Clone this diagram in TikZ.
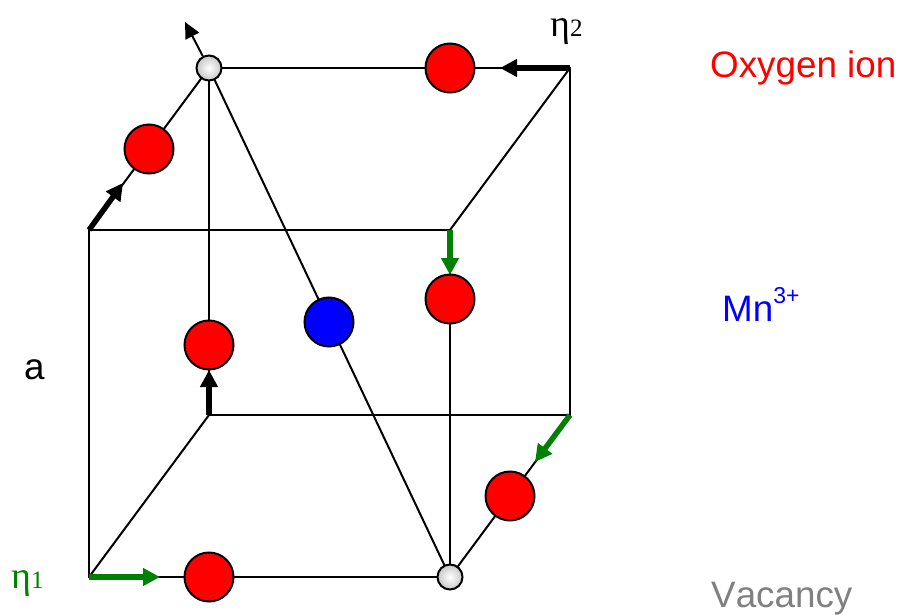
\documentclass[tikz,border=0pt]{standalone}
\usepackage{fontspec}
\setmainfont[Kerning=Off]{Liberation Sans}
\newfontfamily\timesf{Liberation Serif}
\usetikzlibrary{arrows.meta}
\definecolor{arrowgreen}{RGB}{0,128,0}
\definecolor{vacgray}{RGB}{128,128,128}
\tikzset{
  edge/.style={draw=black,line width=2pt},
  oxy/.style={circle,draw=black,line width=2pt,fill=red,minimum size=49pt,inner sep=0pt},
  mn/.style={circle,draw=black,line width=2pt,fill=blue,minimum size=49pt,inner sep=0pt},
  vac/.style={circle,draw=black,line width=2pt,inner color=white,outer color=black!22,minimum size=25pt,inner sep=0pt},
  thickarrow/.style={line width=5.5pt,-{Triangle[length=17pt,width=17pt]}},
  thinarrow/.style={line width=2pt,-{Triangle[length=16pt,width=15pt]}},
  lab/.style={font=\fontsize{36.8}{40}\selectfont,anchor=base west,inner sep=0pt},
  eta/.style={font=\fontsize{38}{40}\timesf\selectfont,anchor=base west,inner sep=0pt}
}
\begin{document}
\begin{tikzpicture}[x=1pt,y=-1pt]
\useasboundingbox (0,0) rectangle (899,615);
% cube corners
\coordinate (ftl) at (89,230);
\coordinate (ftr) at (450,230);
\coordinate (fbl) at (89,577);
\coordinate (fbr) at (450,577);
\coordinate (btl) at (209,68);
\coordinate (btr) at (570,68);
\coordinate (bbl) at (209,415);
\coordinate (bbr) at (570,415);
% arrow tips
\coordinate (tipA) at (123,183);
\coordinate (tipB) at (500,68);
\coordinate (tipC) at (450,275);
\coordinate (tipD) at (209,370);
\coordinate (tipE) at (535,462);
\coordinate (tipF) at (160,577);
\coordinate (tipG) at (185,22);
% edges
\draw[edge,line join=miter] (ftl) -- (ftr) (ftl) -- (fbl) -- (fbr) -- (ftr);
\draw[edge] (btl) -- (btr) -- (bbr) -- (bbl) -- (btl);
\draw[edge] (ftl) -- (btl) (ftr) -- (btr) (fbl) -- (bbl) (fbr) -- (bbr);
\draw[edge] (btl) -- (fbr);
% ions
\node[oxy] (o1) at (149,149) {};
\node[oxy] (o2) at (450,68) {};
\node[oxy] (o3) at (450,299) {};
\node[oxy] (o4) at (209,345) {};
\node[oxy] (o5) at (510,496) {};
\node[oxy] (o6) at (209,577) {};
\node[mn] (m1) at (329,322) {};
\node[vac] (v1) at (209,68) {};
\node[vac] (v2) at (450,577) {};
% displacement arrows
\draw[thickarrow] (ftl) -- (tipA);
\draw[thickarrow] (btr) -- (tipB);
\draw[thickarrow] (bbl) -- (tipD);
\draw[thickarrow,arrowgreen] (ftr) -- (tipC);
\draw[thickarrow,arrowgreen] (bbr) -- (tipE);
\draw[thickarrow,arrowgreen] (fbl) -- (tipF);
\draw[thinarrow] (v1) -- (tipG);
% labels
\node[lab,text=red] (lo) at (710,78) {Oxygen ion};
\node[lab,text=blue] (lm) at (722,321) {Mn\raisebox{18pt}{\fontsize{23}{26}\selectfont 3+}};
\node[lab,text=vacgray] (lv) at (711,607) {Vacancy};
\node[lab] (la) at (24,379) {a};
\node[eta,text=arrowgreen] (e1) at (11,588) {η\fontsize{25}{26}\selectfont 1};
\node[eta] (e2) at (550,37) {η\fontsize{25}{26}\selectfont 2};
\end{tikzpicture}
\end{document}
